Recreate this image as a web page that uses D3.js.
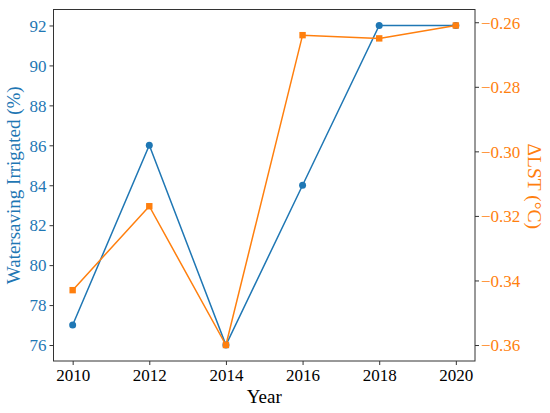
<!DOCTYPE html>
<html>
<head>
<meta charset="utf-8">
<script src="https://cdn.jsdelivr.net/npm/d3@7"></script>
<style>
  body { margin: 0; background: #fff; }
</style>
</head>
<body>
<svg id="chart" width="550" height="413"></svg>
<script>
const years = [2010, 2012, 2014, 2016, 2018, 2020];
const irrigated = [77, 86, 76, 84, 92, 92];
const deltaLST = [-0.343, -0.317, -0.360, -0.264, -0.265, -0.261];
const leftTicks = [76, 78, 80, 82, 84, 86, 88, 90, 92];
const rightTicks = [-0.36, -0.34, -0.32, -0.30, -0.28, -0.26];

const blue = '#1f77b4';
const orange = '#ff7f0e';
const serif = '"Liberation Serif", "Times New Roman", serif';

const margin = {top: 9.5, right: 75, bottom: 52, left: 53.5};
const width = 550, height = 413;

const svg = d3.select('#chart').attr('font-family', serif);

const x = d3.scaleLinear().domain([2009.5, 2020.5]).range([margin.left, width - margin.right]);
const yL = d3.scaleLinear().domain([75.2, 92.8]).range([height - margin.bottom, margin.top]);
const yR = d3.scaleLinear().domain([-0.36495, -0.25605]).range([height - margin.bottom, margin.top]);

// axes
const xAxis = svg.append('g')
    .attr('transform', `translate(0,${height - margin.bottom})`)
    .call(d3.axisBottom(x).tickValues(years).tickFormat(d3.format('d')).tickSize(4).tickPadding(4));
xAxis.selectAll('text').attr('fill', '#000');

const leftAxis = svg.append('g')
    .attr('transform', `translate(${margin.left},0)`)
    .call(d3.axisLeft(yL).tickValues(leftTicks).tickSize(4).tickPadding(3));
leftAxis.selectAll('text').attr('fill', blue).attr('dy', '0.34em');

const minusFmt = d => d3.format('.2f')(d).replace('-', '\u2212');
const rightAxis = svg.append('g')
    .attr('transform', `translate(${width - margin.right},0)`)
    .call(d3.axisRight(yR).tickValues(rightTicks).tickFormat(minusFmt).tickSize(4).tickPadding(2));
rightAxis.selectAll('text').attr('fill', orange).attr('dy', '0.34em');

[xAxis, leftAxis, rightAxis].forEach(a => {
    a.attr('font-family', serif).attr('font-size', 17);
    a.select('.domain').remove();
    a.selectAll('.tick line').attr('stroke', '#333').attr('stroke-width', 1);
});

// frame
svg.append('rect')
    .attr('x', margin.left).attr('y', margin.top)
    .attr('width', width - margin.left - margin.right)
    .attr('height', height - margin.top - margin.bottom)
    .attr('fill', 'none').attr('stroke', '#333').attr('stroke-width', 1);

// blue series
const lineL = d3.line().x((d, i) => x(years[i])).y(d => yL(d));
svg.append('path').datum(irrigated)
    .attr('d', lineL).attr('fill', 'none').attr('stroke', blue).attr('stroke-width', 1.5);
svg.selectAll('.dotL').data(irrigated).enter().append('circle')
    .attr('cx', (d, i) => x(years[i])).attr('cy', d => yL(d)).attr('r', 3.5).attr('fill', blue);

// orange series
const lineR = d3.line().x((d, i) => x(years[i])).y(d => yR(d));
svg.append('path').datum(deltaLST)
    .attr('d', lineR).attr('fill', 'none').attr('stroke', orange).attr('stroke-width', 1.5);
svg.selectAll('.sqR').data(deltaLST).enter().append('rect')
    .attr('x', (d, i) => x(years[i]) - 3.2).attr('y', d => yR(d) - 3.2)
    .attr('width', 6.4).attr('height', 6.4).attr('fill', orange);

// labels
svg.append('text')
    .attr('x', (margin.left + width - margin.right) / 2).attr('y', 403)
    .attr('text-anchor', 'middle').attr('font-size', 19).attr('fill', '#000')
    .text('Year');

svg.append('text')
    .attr('transform', `translate(20,${(margin.top + height - margin.bottom) / 2}) rotate(-90)`)
    .attr('text-anchor', 'middle').attr('font-size', 19).attr('fill', blue)
    .text('Watersaving Irrigated (%)');

svg.append('text')
    .attr('transform', `translate(528,${(margin.top + height - margin.bottom) / 2 + 1}) rotate(90)`)
    .attr('text-anchor', 'middle').attr('font-size', 19.5).attr('fill', orange)
    .text('ΔLST (°C)');
</script>
</body>
</html>
